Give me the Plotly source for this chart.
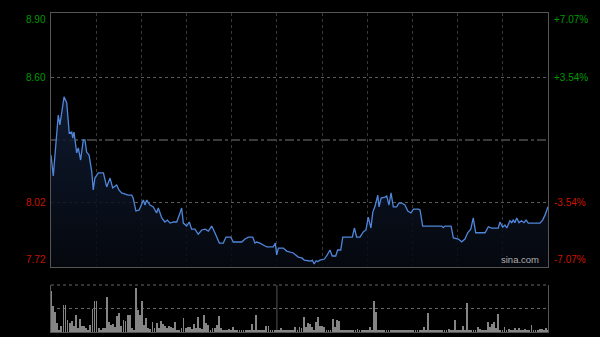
import plotly.graph_objects as go

# ---- data ----
times = [0, 1.1, 3.5, 4.3, 6.3, 7.6, 8.8, 10.0, 10.5, 11.1, 12.4, 13.2, 14.3, 15.6, 16.4, 17.2, 18.4, 19.7, 20.4, 21.2,
         22.8, 25.3, 26.9, 28.5, 29.8, 31.7, 32.8, 34.1, 37.3, 39.0, 39.7, 41.0, 42.6, 43.8, 44.6, 45.4, 46.2, 47.8, 49.4, 51.0,
         51.8, 53.5, 55.0, 56.2, 57.5, 59.1, 60.7, 62.3, 63.1, 63.9, 65.5, 66.8, 67.9, 69.5, 71.1, 72.8, 74.4, 76.0, 77.6, 79.2,
         81.3, 83.2, 84.5, 86.8, 88.0, 92.1, 93.7, 95.3, 97.4, 98.5, 99.3, 100.9, 104.2, 107.3, 108.3, 109.0, 109.8, 112.2, 113.8, 117.0,
         119.4, 121.1, 122.3, 124.3, 125.6, 126.2, 127.1, 128.0, 128.8, 129.9, 132.0, 133.1, 134.7, 135.8, 137.5, 138.4, 139.9, 140.9, 145.5, 146.5,
         147.6, 149.2, 150.8, 152.1, 153.2, 154.5, 155.4, 156.5, 157.8, 158.4, 159.4, 161.3, 162.1, 163.2, 164.2, 165.3, 166.9, 168.0, 169.4, 170.9,
         172.3, 173.8, 175.0, 177.4, 178.2, 179.5, 188.7, 189.4, 190.3, 193.2, 194.3, 196.7, 198.3, 199.9, 201.2, 202.7, 203.9, 205.1, 209.6, 211.2,
         212.8, 216.0, 216.8, 218.1, 219.2, 220.1, 220.8, 221.6, 222.5, 223.2, 224.0, 224.9, 226.0, 227.2, 228.4, 229.4, 230.5, 236.1, 237.4, 238.6,
         240]
prices = [8.240, 8.143, 8.426, 8.380, 8.511, 8.482, 8.342, 8.347, 8.319, 8.347, 8.250, 8.273, 8.217, 8.310, 8.310, 8.254, 8.240, 8.161, 8.078, 8.133,
          8.157, 8.157, 8.092, 8.133, 8.087, 8.101, 8.078, 8.064, 8.054, 8.054, 8.040, 7.980, 7.985, 8.017, 8.031, 8.008, 8.031, 8.008, 7.999, 7.971,
          7.994, 7.948, 7.929, 7.938, 7.924, 7.929, 7.929, 7.971, 7.994, 7.924, 7.910, 7.929, 7.896, 7.896, 7.873, 7.892, 7.896, 7.887, 7.910, 7.878,
          7.831, 7.831, 7.859, 7.859, 7.836, 7.836, 7.850, 7.859, 7.859, 7.831, 7.836, 7.831, 7.813, 7.813, 7.831, 7.776, 7.808, 7.808, 7.794, 7.785,
          7.766, 7.762, 7.752, 7.749, 7.748, 7.752, 7.734, 7.749, 7.745, 7.752, 7.757, 7.771, 7.799, 7.771, 7.771, 7.799, 7.799, 7.859, 7.859, 7.901,
          7.859, 7.859, 7.883, 7.892, 7.952, 7.901, 7.975, 8.003, 8.054, 7.999, 8.040, 8.045, 8.050, 8.008, 8.064, 7.999, 7.999, 8.017, 8.017, 8.008,
          7.980, 7.971, 7.989, 7.989, 7.985, 7.910, 7.910, 7.903, 7.910, 7.910, 7.855, 7.850, 7.837, 7.850, 7.879, 7.896, 7.948, 7.879, 7.879, 7.907,
          7.901, 7.901, 7.929, 7.905, 7.915, 7.901, 7.915, 7.935, 7.926, 7.938, 7.926, 7.948, 7.926, 7.935, 7.926, 7.938, 7.924, 7.924, 7.938, 7.962,
          8.000]

volumes = [407, 257, 200, 90, 23, 57, 273, 273, 123, 90, 107, 57, 173, 40, 133, 57, 57, 40, 23, 73,
           233, 307, 313, 40, 23, 40, 40, 347, 100, 67, 80, 47, 157, 190, 57, 123, 107, 167, 173, 40,
           23, 440, 223, 173, 313, 73, 140, 40, 33, 100, 40, 90, 40, 107, 80, 57, 40, 57, 47, 40,
           100, 23, 23, 40, 140, 40, 47, 47, 33, 80, 40, 147, 40, 33, 167, 90, 73, 23, 40, 40,
           67, 157, 40, 23, 13, 23, 30, 23, 47, 13, 23, 13, 13, 23, 13, 13, 23, 80, 13, 173,
           13, 13, 13, 13, 57, 57, 13, 13, 13, 13, 13, 40, 13, 13, 13, 13, 13, 23, 47, 13,
           47, 37, 147, 47, 87, 80, 53, 20, 97, 147, 60, 60, 47, 10, 10, 13, 127, 47, 120, 113,
           20, 10, 10, 10, 10, 10, 13, 10, 27, 10, 10, 10, 13, 10, 47, 20, 313, 203, 20, 10,
           10, 13, 10, 10, 13, 10, 10, 10, 13, 10, 10, 10, 13, 10, 10, 10, 13, 10, 10, 13,
           47, 10, 187, 10, 10, 13, 10, 10, 10, 13, 10, 10, 27, 10, 20, 120, 10, 13, 10, 60,
           20, 293, 10, 10, 13, 10, 53, 27, 10, 13, 10, 103, 53, 80, 103, 37, 180, 10, 13, 47,
           10, 27, 10, 20, 37, 10, 37, 13, 10, 27, 10, 20, 70, 10, 13, 20, 27, 27, 10, 37,
           20]
vol_times = list(range(len(volumes)))

assert len(times) == len(prices), (len(times), len(prices))

left_labels = ["8.90", "8.60", "8.02", "7.72"]
left_values = [8.90, 8.60, 8.02, 7.72]
right_labels = ["+7.07%", "+3.54%", "-3.54%", "-7.07%"]
label_colors = ["#009a00", "#009a00", "#c81400", "#c81400"]
label_shift = [-6, 0, 0, 7]
prev_close = 8.31

# ---- figure ----
fig = go.Figure()
fig.add_trace(go.Scatter(
    x=times, y=prices, mode="lines",
    line=dict(color="#4f86db", width=1.3),
    fill="tozeroy",
    fillgradient=dict(type="vertical",
                      colorscale=[[0, "rgba(6,9,16,0.85)"], [1, "rgba(18,32,58,0.85)"]],
                      start=7.72, stop=8.55),
    xaxis="x", yaxis="y", hoverinfo="skip", showlegend=False))

fig.add_trace(go.Bar(
    x=vol_times, y=volumes, width=0.4,
    marker=dict(color="#858585", line=dict(width=0)),
    xaxis="x2", yaxis="y2", showlegend=False, hoverinfo="skip"))

vgrid = [240 * k / 11 for k in range(1, 11)]
FONT = "Arial, 'Liberation Sans', sans-serif"

fig.update_layout(
    width=600, height=337,
    margin=dict(l=51, r=52, t=13, b=5),
    paper_bgcolor="#000000", plot_bgcolor="#000000",
    font=dict(family=FONT, size=10, color="#aaaaaa"),
    bargap=0,
    xaxis=dict(domain=[0, 1], anchor="y", range=[0, 240], showticklabels=False,
               tickvals=vgrid, ticks="", showgrid=True, gridcolor="#383838", griddash="dot", gridwidth=1,
               showline=True, mirror=True, linecolor="#555555", linewidth=1, zeroline=False),
    yaxis=dict(domain=[0.2038, 1], anchor="x", range=[7.72, 8.90], showticklabels=False,
               tickvals=[8.60, 8.02], ticks="", showgrid=True, gridcolor="#5a5a5a", griddash="dot", gridwidth=1,
               showline=True, mirror=True, linecolor="#555555", linewidth=1, zeroline=False),
    xaxis2=dict(domain=[0, 1], anchor="y2", matches="x", range=[0, 240], showticklabels=False,
                showgrid=False, ticks="", showline=True, linecolor="#555555", linewidth=1, zeroline=False),
    yaxis2=dict(domain=[0, 0.1473], anchor="x2", range=[0, 470], showticklabels=False,
                showgrid=False, ticks="", showline=True, mirror=True, linecolor="#555555", linewidth=1,
                zeroline=False),
)

shapes = [
    dict(type="line", xref="x domain", yref="y", x0=0, x1=1, y0=prev_close, y1=prev_close,
         line=dict(color="#777777", width=1, dash="dashdot"), layer="below"),
    dict(type="line", xref="x2 domain", yref="y2 domain", x0=0, x1=1, y0=1, y1=1,
         line=dict(color="#666666", width=1, dash="dot")),
    dict(type="line", xref="x2 domain", yref="y2 domain", x0=0, x1=1, y0=0.5, y1=0.5,
         line=dict(color="#666666", width=1, dash="dot"), layer="below"),
    dict(type="line", xref="x2", yref="y2 domain", x0=vgrid[4], x1=vgrid[4], y0=0, y1=1,
         line=dict(color="#555555", width=1), layer="below"),
]
fig.update_layout(shapes=shapes)

ann = []
for lab, val, col, sh in zip(left_labels, left_values, label_colors, label_shift):
    ann.append(dict(xref="paper", yref="y", x=0, y=val, xanchor="right", yanchor="middle",
                    xshift=-3, yshift=sh, text=lab, showarrow=False,
                    font=dict(family=FONT, size=10, color=col)))
for lab, val, col, sh in zip(right_labels, left_values, label_colors, label_shift):
    ann.append(dict(xref="paper", yref="y", x=1, y=val, xanchor="left", yanchor="middle",
                    xshift=4, yshift=sh, text=lab, showarrow=False,
                    font=dict(family=FONT, size=10, color=col)))
ann.append(dict(xref="paper", yref="y", x=0.944, y=7.72, xanchor="center", yanchor="middle",
                yshift=7, text="sina.com", showarrow=False,
                font=dict(family=FONT, size=9.5, color="#b0b0b0")))
fig.update_layout(annotations=ann)

fig.write_html("out.html")
